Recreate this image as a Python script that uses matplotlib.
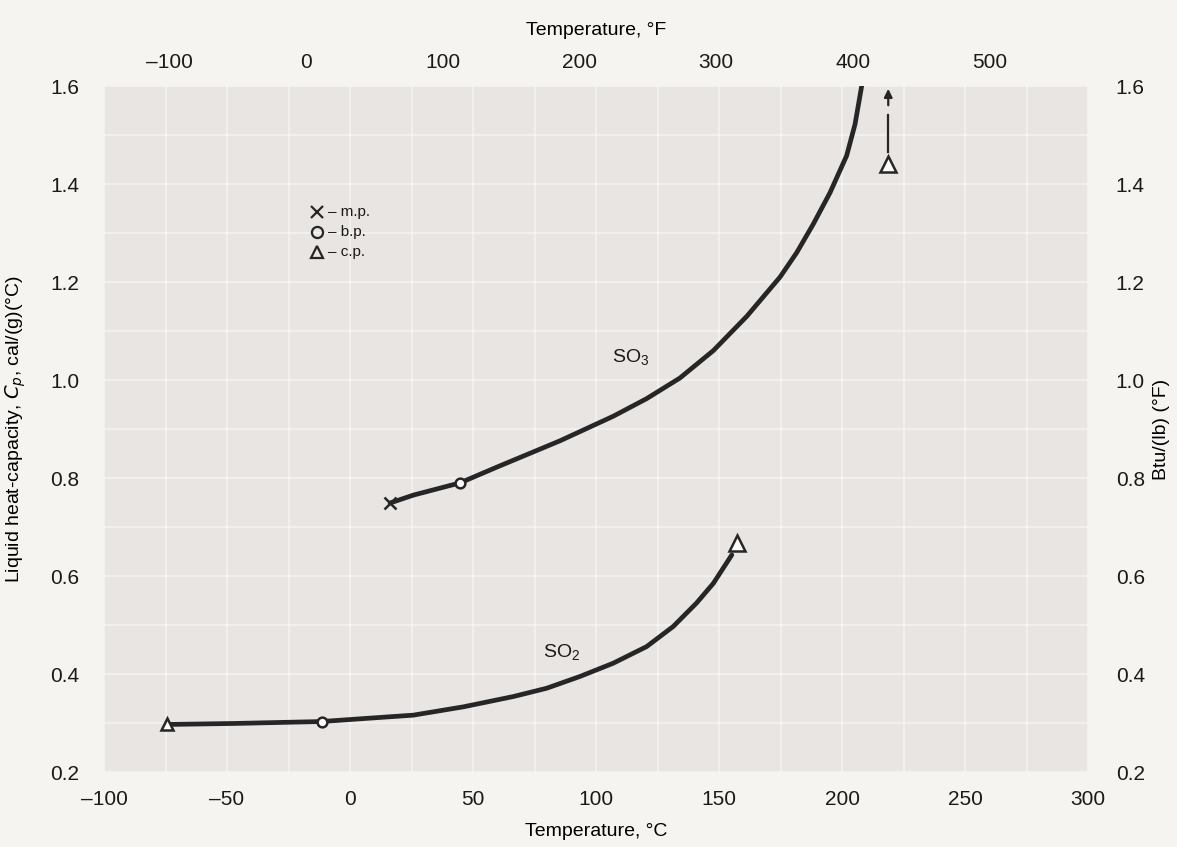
import numpy as np
import matplotlib
matplotlib.use("Agg")
import matplotlib.pyplot as plt

plt.rcParams["font.family"] = ["Liberation Sans", "DejaVu Sans"]
plt.rcParams["mathtext.default"] = "regular"

# SO2 curve (deg C, cal/(g)(deg C))
so2_t = [-74.5, -47.6, -11.5, 5.4, 25.7, 46.1, 66.4, 80.0, 93.5, 107.0,
         120.6, 131.4, 140.9, 147.7, 155.2]
so2_cp = [0.297, 0.299, 0.303, 0.309, 0.316, 0.333, 0.354, 0.371, 0.395, 0.422,
          0.456, 0.497, 0.545, 0.585, 0.643]

# SO3 curve
so3_t = [16.3, 25.7, 44.7, 59.6, 85.4, 107.0, 120.6, 134.1, 147.7, 161.3,
         174.8, 181.6, 188.3, 195.1, 201.9, 205.3, 208.0]
so3_cp = [0.749, 0.765, 0.790, 0.822, 0.876, 0.926, 0.962, 1.004, 1.060, 1.130,
          1.210, 1.260, 1.318, 1.382, 1.458, 1.522, 1.600]

# special points
so2_mp = (-74.5, 0.297)
so2_bp = (-11.5, 0.303)
so2_cp_pt = (157.2, 0.667)
so3_mp = (16.3, 0.749)
so3_bp = (44.7, 0.790)
so3_cp_pt = (218.8, 1.440)

x_ticks = [-100, -50, 0, 50, 100, 150, 200, 250, 300]
f_ticks = [-100, 0, 100, 200, 300, 400, 500]
y_ticks = [0.2, 0.4, 0.6, 0.8, 1.0, 1.2, 1.4, 1.6]

line_col = "#262626"
paper = "#f6f4f1"
grid_bg = "#e8e5e2"

fig = plt.figure(figsize=(11.77, 8.47), dpi=100, facecolor=paper)
ax = fig.add_axes([104 / 1177, 1 - 772 / 847, 984 / 1177, 686 / 847])
ax.set_facecolor(grid_bg)
ax.set_xlim(-100, 300)
ax.set_ylim(0.2, 1.6)
for s in ax.spines.values():
    s.set_visible(False)

ax.set_xticks(x_ticks)
ax.set_xticklabels([f"\u2013{abs(v)}" if v < 0 else str(v) for v in x_ticks])
ax.set_yticks(y_ticks)
ax.set_yticklabels([f"{v:.1f}" for v in y_ticks])
ax.set_xticks(np.arange(-75, 300, 50), minor=True)
ax.set_yticks(np.arange(0.3, 1.6, 0.2), minor=True)
ax.grid(True, which="both", color="white", lw=1.2, alpha=0.55)
ax.set_axisbelow(True)

ax.tick_params(axis="both", which="both", length=0, labelsize=15, colors="#1a1a1a")
ax.tick_params(axis="x", pad=13)
ax.tick_params(axis="y", pad=18)
ax.set_xlabel("Temperature, \u00b0C", fontsize=14, labelpad=10)
ax.set_ylabel("Liquid heat-capacity, $\\mathit{C_p}$, cal/(g)(\u00b0C)", fontsize=14, labelpad=16)

# top Fahrenheit axis
top = ax.secondary_xaxis("top", functions=(lambda c: c * 9 / 5 + 32, lambda f: (f - 32) * 5 / 9))
top.set_xticks(f_ticks)
top.set_xticklabels([f"\u2013{abs(v)}" if v < 0 else str(v) for v in f_ticks])
top.tick_params(length=0, labelsize=15, pad=10, colors="#1a1a1a")
top.set_xlabel("Temperature, \u00b0F", fontsize=14, labelpad=13)
for s in top.spines.values():
    s.set_visible(False)

# right Btu axis (same numbers)
right = ax.secondary_yaxis("right", functions=(lambda v: v, lambda v: v))
right.set_yticks(y_ticks)
right.set_yticklabels([f"{v:.1f}" for v in y_ticks])
right.tick_params(length=0, labelsize=15, pad=20, colors="#1a1a1a")
right.set_ylabel("Btu/(lb) (\u00b0F)", fontsize=14, labelpad=6)
for s in right.spines.values():
    s.set_visible(False)

# curves
ax.plot(so2_t, so2_cp, color=line_col, lw=3.4, solid_capstyle="round", zorder=3)
ax.plot(so3_t, so3_cp, color=line_col, lw=3.4, solid_capstyle="round", zorder=3)

mk = dict(color=line_col, mfc="white", mew=1.8, zorder=4, ls="none")
ax.plot(*so2_mp, marker="^", ms=9, **mk)
ax.plot(*so2_bp, marker="o", ms=7, **mk)
ax.plot(*so2_cp_pt, marker="^", ms=12, **mk)
ax.plot(*so3_mp, marker="x", ms=9, **mk)
ax.plot(*so3_bp, marker="o", ms=7, **mk)
ax.plot(*so3_cp_pt, marker="^", ms=12, **mk)

# arrow above SO3 critical point
ax.plot([so3_cp_pt[0], so3_cp_pt[0]], [1.465, 1.540], color=line_col, lw=1.6)
ax.annotate("", xy=(so3_cp_pt[0], 1.60), xytext=(so3_cp_pt[0], 1.555),
            arrowprops=dict(arrowstyle="-|>", color=line_col, lw=1.6, mutation_scale=12))

ax.text(114, 1.047, "SO$_3$", fontsize=14, ha="center", va="center", color="#1a1a1a")
ax.text(86, 0.445, "SO$_2$", fontsize=14, ha="center", va="center", color="#1a1a1a")

# key
key = [("x", "\u2013 m.p.", 1.343), ("o", "\u2013 b.p.", 1.302), ("^", "\u2013 c.p.", 1.261)]
for m, lab, yv in key:
    ax.plot(-13.5, yv, marker=m, ms=8, color=line_col, mfc="none", mew=1.6, ls="none")
    ax.text(-9.0, yv, lab, fontsize=11, va="center", ha="left", color="#1a1a1a")

fig.savefig("out.png", dpi=100, facecolor=paper)
